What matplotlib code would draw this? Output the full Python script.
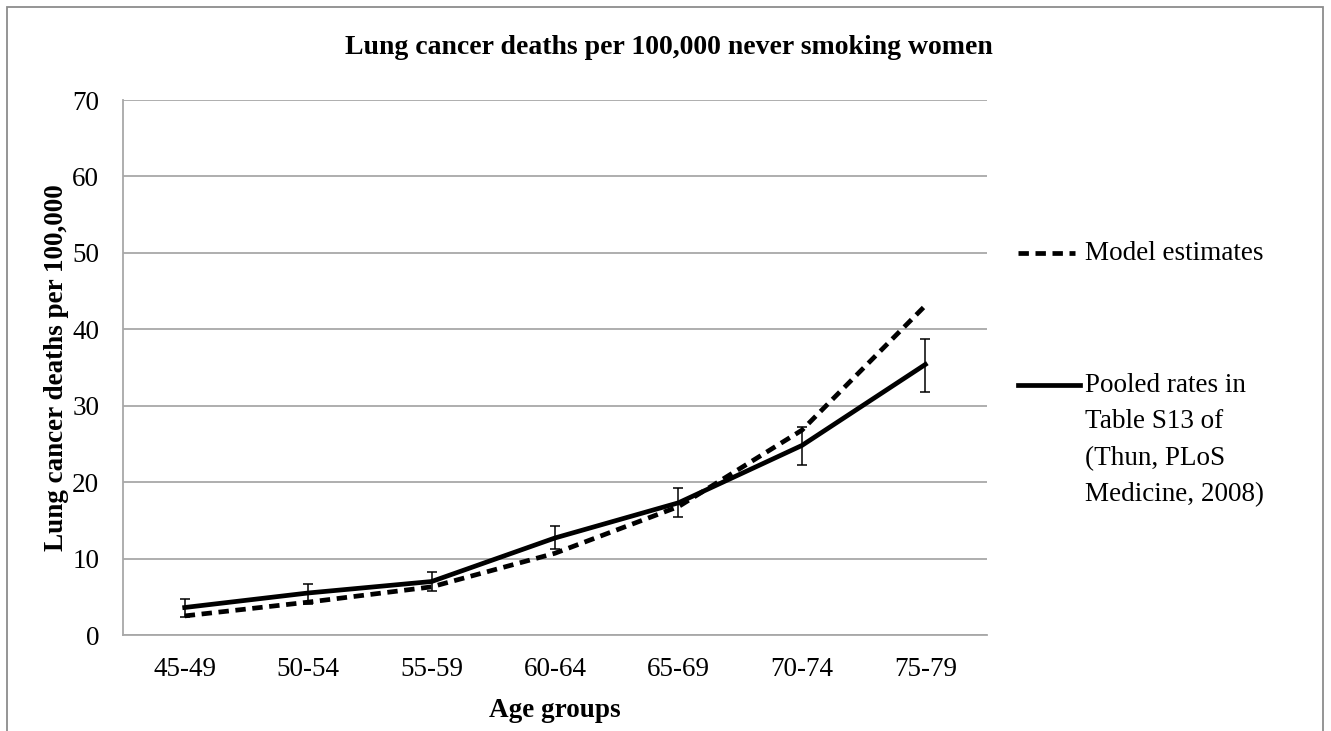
import matplotlib.pyplot as plt
from matplotlib.lines import Line2D
from matplotlib.patches import Rectangle
import numpy as np

# data
age_groups = ['45-49', '50-54', '55-59', '60-64', '65-69', '70-74', '75-79']
model_estimates = [2.5, 4.3, 6.3, 10.7, 16.8, 26.8, 43.1]
pooled_rates = [3.6, 5.5, 7.0, 12.7, 17.3, 24.8, 35.4]
pooled_low = [2.4, 4.1, 5.8, 11.3, 15.4, 22.3, 31.8]
pooled_high = [4.7, 6.7, 8.2, 14.3, 19.2, 27.2, 38.7]
legend_lines = ['Pooled rates in', 'Table S13 of', '(Thun, PLoS', 'Medicine, 2008)']

plt.rcParams['font.family'] = ['Liberation Serif', 'DejaVu Serif']
FS = 19.5

fig = plt.figure(figsize=(13.31, 7.31), dpi=100)
ax = fig.add_axes([0.0924, 0.1313, 0.6492, 0.7319])

x = np.arange(len(age_groups))
rates = np.array(pooled_rates)
yerr = [rates - np.array(pooled_low), np.array(pooled_high) - rates]

ax.plot(x, model_estimates, color='black', linewidth=3.4,
        linestyle=(0, (2.2, 1.4)), zorder=3)
ax.plot(x, pooled_rates, color='black', linewidth=3.4, zorder=4)
ax.errorbar(x, pooled_rates, yerr=yerr, fmt='none', ecolor='black',
            elinewidth=1.1, capsize=3.6, capthick=1.1, zorder=5)

ax.set_xlim(-0.5, len(age_groups) - 0.5)
ax.set_ylim(0, 70)
ax.set_yticks(range(0, 71, 10))
ax.set_xticks(x)
ax.set_xticklabels(age_groups)
ax.tick_params(axis='both', length=0, labelsize=FS)
ax.tick_params(axis='y', pad=17)
ax.tick_params(axis='x', pad=16)

ax.grid(axis='y', color='#a8a8a8', linewidth=1.3)
ax.set_axisbelow(True)
for side in ['top', 'right']:
    ax.spines[side].set_visible(False)
for side in ['left', 'bottom']:
    ax.spines[side].set_color('#a8a8a8')
    ax.spines[side].set_linewidth(1.3)

ax.set_ylabel('Lung cancer deaths per 100,000', fontsize=FS,
              fontweight='bold')
ax.yaxis.set_label_coords(-0.063, 0.5)
ax.set_xlabel('Age groups', fontsize=FS, fontweight='bold', labelpad=11)

fig.text(669 / 1331, 0.935, 'Lung cancer deaths per 100,000 never smoking women',
         ha='center', va='center', fontsize=20, fontweight='bold')

# legend drawn by hand to the right of the plot
W, H = 1331, 731
fig.add_artist(Line2D([1018 / W, 1075 / W], [1 - 253 / H] * 2, color='black',
                      linewidth=3.4, linestyle=(0, (2.2, 1.4))))
fig.text(1085 / W, 1 - 253 / H, 'Model estimates', fontsize=FS,
         ha='left', va='center')
fig.add_artist(Line2D([1018 / W, 1080 / W], [1 - 385 / H] * 2, color='black',
                      linewidth=3.4))
for i, line in enumerate(legend_lines):
    fig.text(1085 / W, 1 - (385 + i * 36.7) / H, line, fontsize=FS,
             ha='left', va='center')

# outer chart border
fig.add_artist(Rectangle((7 / W, -0.05), (1323 - 7) / W, 1.05 - 7 / H,
                         transform=fig.transFigure, fill=False,
                         edgecolor='#8c8c8c', linewidth=1.3))

fig.savefig('out.png', dpi=100)
